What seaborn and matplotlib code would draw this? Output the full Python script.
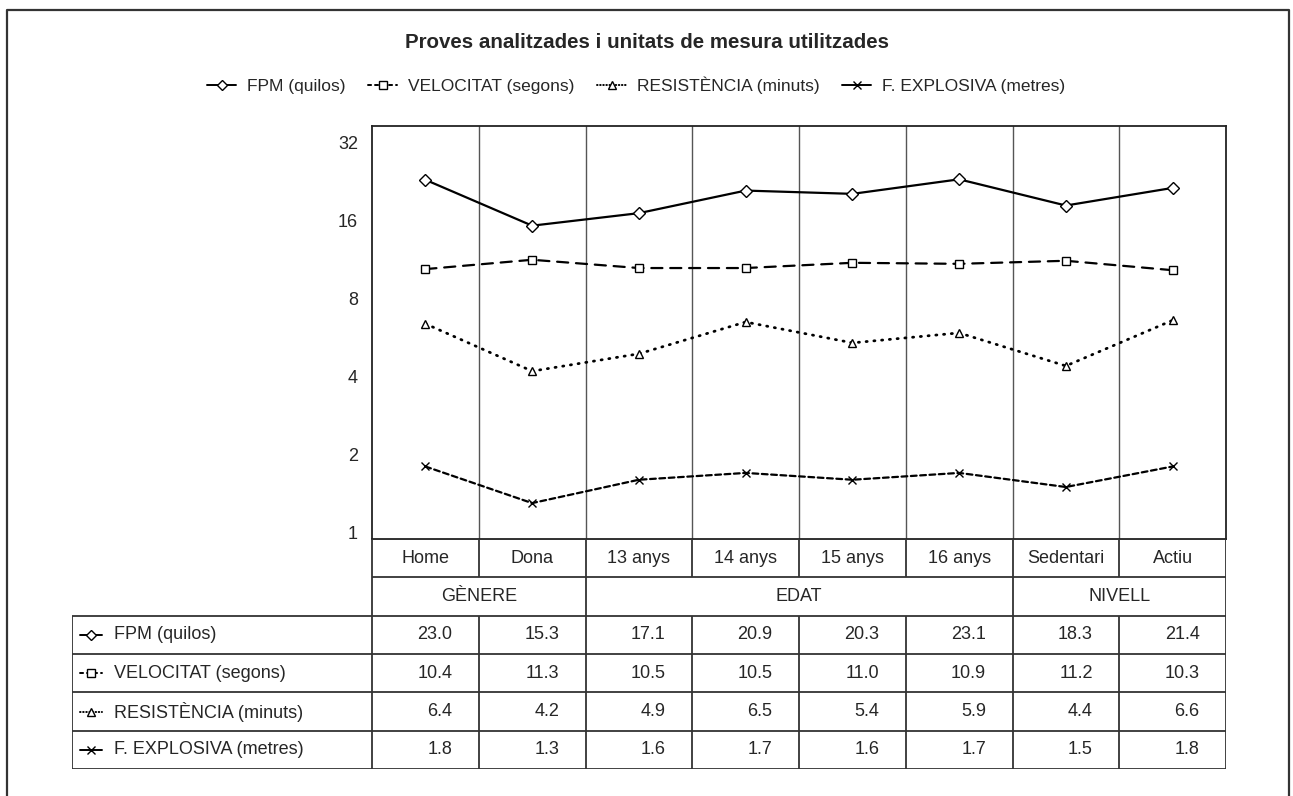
import numpy as np
import pandas as pd
import seaborn as sns
import matplotlib.pyplot as plt
from matplotlib.lines import Line2D

# data
categories = ["Home", "Dona", "13 anys", "14 anys", "15 anys", "16 anys", "Sedentari", "Actiu"]
group_names = ["GÈNERE", "EDAT", "NIVELL"]
group_sizes = [2, 4, 2]

series_names = ["FPM (quilos)", "VELOCITAT (segons)", "RESISTÈNCIA (minuts)", "F. EXPLOSIVA (metres)"]
fpm = [23.0, 15.3, 17.1, 20.9, 20.3, 23.1, 18.3, 21.4]
velocitat = [10.4, 11.3, 10.5, 10.5, 11.0, 10.9, 11.2, 10.3]
resistencia = [6.4, 4.2, 4.9, 6.5, 5.4, 5.9, 4.4, 6.6]
explosiva = [1.8, 1.3, 1.6, 1.7, 1.6, 1.7, 1.5, 1.8]
yticks = [1, 2, 4, 8, 16, 32]

all_values = [fpm, velocitat, resistencia, explosiva]

markers = dict(zip(series_names, ["D", "s", "^", "x"]))
dashes = dict(zip(series_names, ["", (5, 3.5), (0.4, 2.4), (2.6, 1.6)]))
# shorter patterns for the little legend keys
key_dashes = dict(zip(series_names, ["", (1.6, 2.0), (0.3, 1.3), ""]))
widths = dict(zip(series_names, [1.6, 1.6, 2.0, 1.6]))

sns.set_style("white")
plt.rcParams['font.family'] = ['Liberation Sans', 'DejaVu Sans']
FS = 12.5
FS_TAB = 13

W, H = 1293, 796
fig = plt.figure(figsize=(W / 100, H / 100), dpi=100)

# pixel layout
px_left, px_right, px_top, px_bottom = 372, 1226, 126, 539
tab_left, tab_bottom = 72, 769

ax = fig.add_axes([px_left / W, 1 - px_bottom / H, (px_right - px_left) / W, (px_bottom - px_top) / H])

pos = np.arange(len(categories))
df = pd.concat([
    pd.DataFrame({"pos": pos, "val": vals, "serie": name})
    for name, vals in zip(series_names, all_values)
])


def style_line(line, name, pattern):
    line.set_color("black")
    line.set_markerfacecolor("white")
    line.set_markeredgecolor("black")
    line.set_markeredgewidth(1.0)
    line.set_dash_capstyle("round")
    if pattern[name]:
        line.set_dashes(pattern[name])


for name in series_names:
    sub = df[df["serie"] == name]
    sns.lineplot(data=sub, x="pos", y="val", marker=markers[name], color="black",
                 linewidth=widths[name], markersize=6, sort=False, legend=False, ax=ax, zorder=3)
    style_line(ax.get_lines()[-1], name, dashes)

ax.set_yscale("log", base=2)
ax.set_ylim(0.945, 37.1)
ax.set_yticks(yticks)
ax.set_yticklabels([str(t) for t in yticks])
ax.minorticks_off()
ax.tick_params(axis="y", length=0, pad=10, labelsize=FS_TAB)
ax.set_xlim(-0.5, len(categories) - 0.5)
ax.set_xticks([])
ax.set_xlabel("")
ax.set_ylabel("")
for i in range(len(categories) - 1):
    ax.axvline(i + 0.5, color="#555555", lw=1.0, zorder=1)
for sp in ax.spines.values():
    sp.set_color("#222222")
    sp.set_linewidth(1.3)

# title and legend
fig.text(647 / W, 1 - 43 / H, "Proves analitzades i unitats de mesura utilitzades",
         ha="center", va="center", fontsize=14.8, fontweight="bold")


def key(name):
    h = Line2D([], [], lw=1.4, marker=markers[name], markersize=5.5)
    style_line(h, name, key_dashes)
    return h


fig.legend(handles=[key(n) for n in series_names], labels=series_names,
           loc="center", bbox_to_anchor=(636 / W, 1 - 85 / H), ncol=4, frameon=False,
           fontsize=FS, handlelength=1.7, handletextpad=0.6, columnspacing=1.3)

# table under the chart
tax = fig.add_axes([tab_left / W, 1 - tab_bottom / H, (px_right - tab_left) / W, (tab_bottom - px_bottom) / H])
tax.set_xlim(tab_left, px_right)
tax.set_ylim(tab_bottom, px_bottom)
tax.axis("off")

rows = np.linspace(px_bottom, tab_bottom, 7)
colw = (px_right - px_left) / len(categories)
bounds = [px_left + k * colw for k in range(len(categories) + 1)]
centers = [px_left + (k + 0.5) * colw for k in range(len(categories))]
lc = "#333333"
lw = 1.3

for y in rows[:2]:
    tax.hlines(y, px_left, px_right, color=lc, lw=lw)
for y in rows[2:]:
    tax.hlines(y, tab_left, px_right, color=lc, lw=lw)
tax.vlines(bounds, rows[0], rows[1], color=lc, lw=lw)
gb = np.cumsum([0] + group_sizes)
tax.vlines([bounds[g] for g in gb], rows[1], rows[2], color=lc, lw=lw)
tax.vlines([tab_left] + bounds, rows[2], rows[6], color=lc, lw=lw)

for c, lab in zip(centers, categories):
    tax.text(c, (rows[0] + rows[1]) / 2, lab, ha="center", va="center", fontsize=FS_TAB)
for g, name in enumerate(group_names):
    xc = (bounds[gb[g]] + bounds[gb[g + 1]]) / 2
    tax.text(xc, (rows[1] + rows[2]) / 2, name, ha="center", va="center", fontsize=FS_TAB)

for r, (name, vals) in enumerate(zip(series_names, all_values)):
    yc = (rows[2 + r] + rows[3 + r]) / 2
    h = tax.plot([80, 91, 102], [yc] * 3, lw=1.4, marker=markers[name],
                 markevery=[1], markersize=5.5)[0]
    style_line(h, name, key_dashes)
    tax.text(114, yc, name, ha="left", va="center", fontsize=FS_TAB)
    for c, v in zip(centers, vals):
        tax.text(c + 27, yc, f"{v:.1f}", ha="right", va="center", fontsize=FS_TAB)

# outer frame (open at the bottom)
fig.add_artist(Line2D([7 / W, 7 / W, 1289 / W, 1289 / W], [0, 1 - 10 / H, 1 - 10 / H, 0],
                      transform=fig.transFigure, color="#333333", lw=1.6))

fig.savefig("out.png", dpi=100)
